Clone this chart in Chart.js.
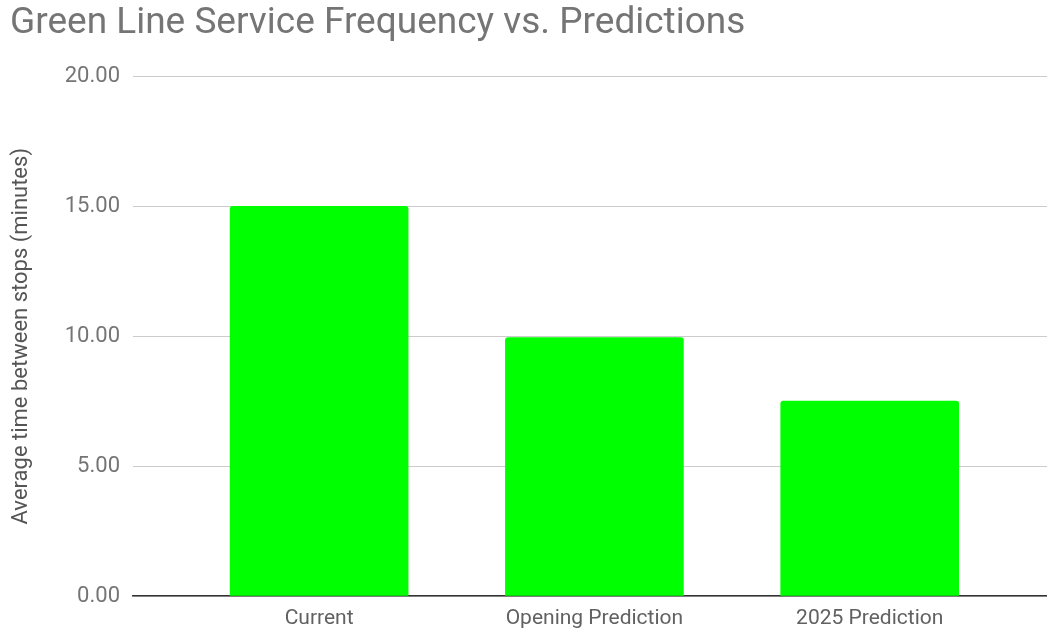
<!DOCTYPE html>
<html>
<head>
<meta charset="utf-8">
<script src="https://cdn.jsdelivr.net/npm/chart.js@4"></script>
<style>
  html, body { margin: 0; padding: 0; background: #fff; }
  #wrap { width: 1047px; height: 631px; }
</style>
</head>
<body>
<div id="wrap"><canvas id="myChart"></canvas></div>
<script>
const categories = ['Current', 'Opening Prediction', '2025 Prediction'];
const waitMinutes = [15.0, 9.95, 7.5];
const yTicks = [0, 5, 10, 15, 20];

function setup() {
    const points = [];
    for (let i = 0; i < categories.length; i++) {
        points.push({ x: i, y: waitMinutes[i] });
    }

    const data = {
        datasets: [{
            label: 'Average time between stops',
            data: points,
            backgroundColor: '#00ff00',
            borderRadius: { topLeft: 3, topRight: 3 },
            borderSkipped: 'start',
            barThickness: 178
        }]
    };

    const config = {
        type: 'bar',
        data: data,
        options: {
            responsive: true,
            maintainAspectRatio: false,
            animation: false,
            layout: { padding: { left: 10, right: 0, top: 0, bottom: 0 } },
            plugins: {
                legend: { display: false },
                tooltip: { enabled: false },
                title: {
                    display: true,
                    text: 'Green Line Service Frequency vs. Predictions',
                    align: 'start',
                    color: '#757575',
                    font: { family: 'Roboto', size: 37, weight: 'normal' },
                    padding: { top: 2, bottom: 30 }
                }
            },
            scales: {
                x: {
                    type: 'linear',
                    offset: false,
                    min: -0.676,
                    max: 2.644,
                    afterFit: (scale) => { scale.height = 35; },
                    afterBuildTicks: (scale) => {
                        scale.ticks = categories.map((c, i) => ({ value: i }));
                    },
                    ticks: {
                        includeBounds: false,
                        callback: (value) => categories[value],
                        color: '#616161',
                        font: { family: 'Roboto', size: 21 },
                        padding: 10,
                        maxRotation: 0
                    },
                    grid: { display: false, drawTicks: false, offset: false },
                    border: { display: true, color: '#333333', width: 1.5 }
                },
                y: {
                    min: 0,
                    max: 20,
                    afterFit: (scale) => { scale.width = 123; },
                    afterBuildTicks: (scale) => {
                        scale.ticks = yTicks.map(v => ({ value: v }));
                    },
                    ticks: {
                        callback: (value) => value.toFixed(2),
                        color: '#757575',
                        font: { family: 'Roboto', size: 22 },
                        padding: 13
                    },
                    grid: { color: '#cccccc', lineWidth: 1, drawTicks: false },
                    border: { display: false },
                    title: {
                        display: true,
                        text: 'Average time between stops (minutes)',
                        color: '#555555',
                        font: { family: 'Roboto', size: 22, lineHeight: 1 },
                        padding: { top: 0, bottom: 0 }
                    }
                }
            }
        }
    };

    new Chart(document.getElementById('myChart'), config);
}

setup();
</script>
</body>
</html>
